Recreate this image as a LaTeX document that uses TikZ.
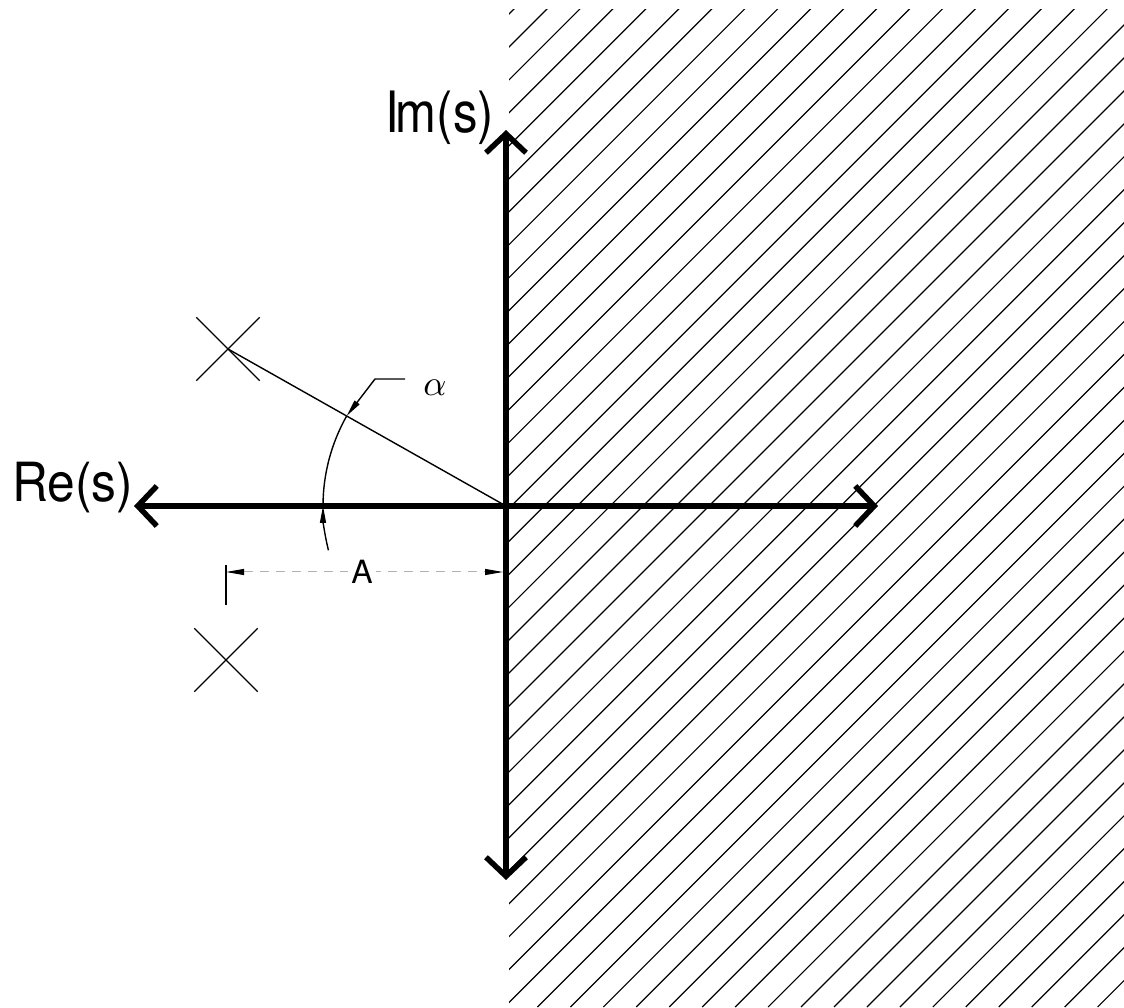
\documentclass[tikz,border=0pt]{standalone}
\usepackage{fontspec}
\usepackage{graphicx}
\setmainfont{TeX Gyre Heros}
\usetikzlibrary{arrows.meta,shapes.misc}
\begin{document}
\begin{tikzpicture}[x=1pt,y=1pt,
  axisline/.style={line width=5.5pt, {Straight Barb[length=19pt,width=40pt]}-{Straight Barb[length=19pt,width=40pt]}},
  thinline/.style={line width=1.4pt},
  hatchline/.style={line width=1.2pt},
  pole/.style={cross out, draw, line width=1.4pt, minimum size=62pt, inner sep=0pt},
  tipA/.style={-{Triangle[length=17pt,width=6pt]}},
  dimline/.style={line width=1pt, draw=gray!60, dash pattern=on 9pt off 7pt},
  biglabel/.style={inner sep=0pt, anchor=base west},
]
\useasboundingbox (0,0) rectangle (1124,1007);
\fill[white] (0,0) rectangle (1124,1007);

\coordinate (O) at (506,501);
\coordinate (reL) at (134,501);
\coordinate (reR) at (878,501);
\coordinate (imT) at (506,877);
\coordinate (imB) at (506,127);

% hatched right half-plane
\begin{scope}
  \clip (509,0) rectangle (1124,997);
  \foreach \k in {0,...,49}{
    \draw[hatchline] ({-484+32.95*\k},0) -- ++(1100,1100);
  }
\end{scope}

% axes
\draw[axisline] (reL) -- (reR);
\draw[axisline] (imB) -- (imT);

% axis labels
\node[biglabel] (re) at (12,505) {\fontsize{54}{60}\selectfont\scalebox{0.92}[1]{Re(s)}};
\node[biglabel] (im) at (385,874) {\fontsize{57}{62}\selectfont\scalebox{0.86}[1]{I\kern-0.06em m(s)}};

% poles
\node[pole] (p1) at (228,658) {};
\node[pole] (p2) at (226,347) {};
\draw[thinline] (p1.center) -- (O);

% angle arc
\draw[thinline, tipA] ([shift={(194:183)}]O) arc[start angle=194,end angle=180,radius=183];
\draw[thinline] ([shift={(180:183)}]O) arc[start angle=180,end angle=150.5,radius=183];
\coordinate (arcTop) at ([shift={(150.5:183)}]O);

% alpha label and leader
\node[inner sep=0pt] (alpha) at (435,619) {\scalebox{3.6}{$\alpha$}};
\coordinate (ldA) at (405,628);
\coordinate (ldB) at (375,628);
\draw[thinline, tipA] (ldA) -- (ldB) -- (arcTop);

% dimension A
\coordinate (ext1) at (226,402);
\coordinate (ext2) at (226,442);
\draw[thinline] (ext1) -- (ext2);
\coordinate (dimL) at (226,435);
\coordinate (dimR) at (503,435);
\draw[dimline, {Triangle[length=18pt,width=6pt,color=black]}-{Triangle[length=18pt,width=6pt,color=black]}] (dimL) -- (dimR);
\node[fill=white, inner sep=3pt] (A) at (362,435) {\fontsize{32}{36}\selectfont A};
\end{tikzpicture}
\end{document}
